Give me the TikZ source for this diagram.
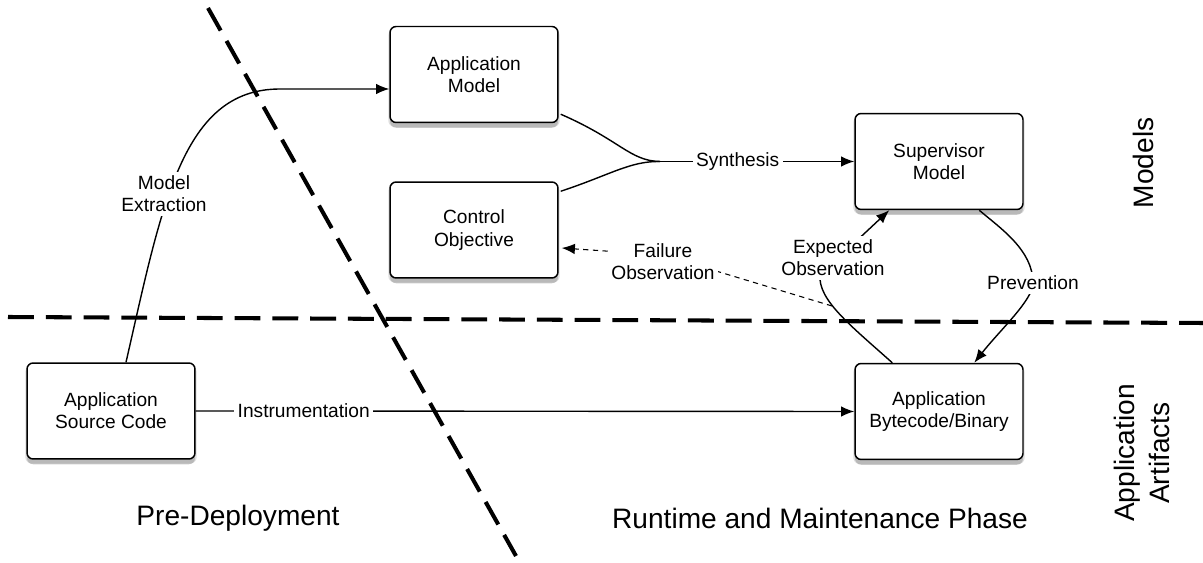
\documentclass[tikz,border=0pt]{standalone}
\usepackage{fontspec}
\setmainfont{Liberation Sans}
\usetikzlibrary{arrows.meta,shadows,calc}
\begin{document}
\begin{tikzpicture}[x=0.02cm,y=-0.02cm,
  box/.style={draw, line width=0.85pt, rounded corners=3.5pt, fill=white,
    minimum width=3.36cm, minimum height=1.92cm, align=center,
    font=\fontsize{10.9}{12.6}\selectfont,
    drop shadow={shadow xshift=0pt, shadow yshift=-2pt, opacity=0.25, shadow scale=1.02},
    drop shadow={shadow xshift=0pt, shadow yshift=-3pt, opacity=0.4}},
  conn/.style={line width=0.8pt},
  arr/.style={conn, -{Latex[length=7.5pt,width=6pt]}},
  darr/.style={line width=0.6pt, dash pattern=on 3pt off 2.5pt, -{Latex[length=7.5pt,width=6pt]}},
  lbl/.style={fill=white, align=center, inner sep=2pt, font=\fontsize{10.9}{12.6}\selectfont},
  sep/.style={line width=2.3pt, dash pattern=on 14.7pt off 6.8pt},
  big/.style={font=\fontsize{16}{19.5}\selectfont, align=center}]
\useasboundingbox (0,0) rectangle (1203,563);

% separators
\coordinate (hl) at (8,317);
\coordinate (hr) at (1203,323);
\coordinate (dt) at (208,8);
\coordinate (db) at (516,556);
\draw[sep] (hl) -- (hr);
\draw[sep] (dt) -- (db);

% boxes
\node[box] (am)  at (474,74.5)  {Application\\Model};
\node[box] (co)  at (474,230)   {Control\\Objective};
\node[box] (sm)  at (939,161.5) {Supervisor\\Model};
\node[box] (ab)  at (939,411.5) {Application\\Bytecode/Binary};
\node[box] (src) at (111,411)   {Application\\Source Code};

% model extraction
\draw[arr] ($(src.north)+(15,0)$) .. controls (162,205) and (182,89) .. (280,89) -- ($(am.west)+(0,14.5)$);
\node[lbl] (mex) at (164,194) {Model\\Extraction};

% synthesis
\coordinate (merge) at (660,0 |- sm.west);
\draw[conn] ($(am.south east)+(2,-9)$) .. controls (620,140) and (630,161) .. (merge);
\draw[conn] ($(co.north east)+(2,10)$) .. controls (610,175) and (630,161) .. (merge);
\draw[arr] (merge) -- node[lbl, pos=0.4] (syn) {Synthesis} (sm.west);

% instrumentation
\draw[arr] (src.east) -- node[lbl, pos=0.164] (ins) {Instrumentation} (ab.west);

% expected observation
\draw[arr] ($(ab.north west)+(38,0)$) .. controls (850,325) and (818,300) .. (820,275) -- ($(sm.south west)+(35,0)$);
\node[lbl] (exo) at (833,258) {Expected\\Observation};

% failure observation
\coordinate (fo) at (832,306);
\draw[darr] (fo) -- (663,255) -- ($(co.east)+(3,18)$);
\node[lbl] (fob) at (663,262) {Failure\\Observation};

% prevention
\draw[arr] ($(sm.south west)+(125,0)$) .. controls (1000,228) and (1033,250) .. (1033,283)
  .. controls (1033,300) and (1000,330) .. ($(ab.north west)+(120,0)$);
\node[lbl] (prv) at (1033,283) {Prevention};

% phase / layer labels
\node[big] (pre) at (238,518) {Pre-Deployment};
\node[big] (run) at (820,518) {Runtime and Maintenance Phase};
\node[big, rotate=90] (mod) at (1143,163) {Models};
\node[big, rotate=90] (art) at (1142,453) {Application\\Artifacts};
\end{tikzpicture}
\end{document}
